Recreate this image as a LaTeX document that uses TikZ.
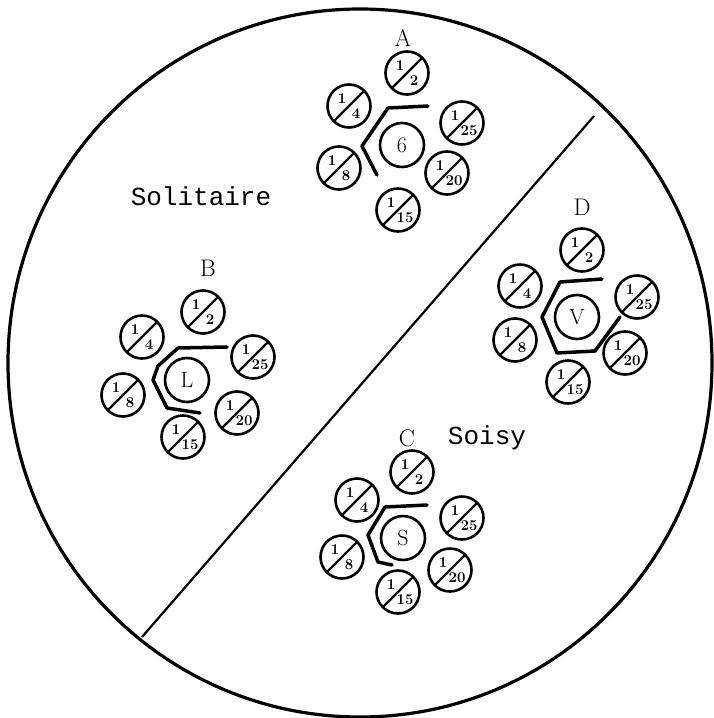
\documentclass[tikz,border=0pt]{standalone}
\usepackage{fontspec}
\newfontfamily\typed{Liberation Mono}
\tikzset{
  x=1pt,y=-1pt,
  dial/.style={circle,draw,line width=2.6pt,minimum size=43pt,inner sep=0pt},
  core/.style={circle,draw,line width=2.6pt,minimum size=44pt,inner sep=0pt,font=\fontsize{22}{22}\selectfont},
  slash/.style={line width=2.4pt,line cap=round},
  num/.style={inner sep=0pt,font=\bfseries\fontsize{15}{15}\selectfont},
  den/.style={inner sep=0pt,font=\bfseries\fontsize{15}{15}\selectfont},
  bracket/.style={line width=3.5pt,line join=round,line cap=round},
  letter/.style={inner sep=0pt,font=\fontsize{24}{24}\selectfont},
  typedtext/.style={inner sep=0pt,font=\typed\fontsize{26}{28}\selectfont},
}
\newcommand\dialnode[3]{%
  \node[dial] (#1) at (#2) {};
  \draw[slash] ([shift={(-14,14)}]#1.center) -- ([shift={(14,-14)}]#1.center);
  \node[num] at ([shift={(-7,-7)}]#1.center) {1};
  \node[den] at ([shift={(7,8)}]#1.center) {#3};
}
\begin{document}
\begin{tikzpicture}
\useasboundingbox (0,0) rectangle (714,718);
% outer circle
\node[draw=none,inner sep=0pt] (rim) at (360,363) {};
\draw[line width=3.2pt] (rim.center) ellipse [x radius=352, y radius=354];
% diagonal divider
\coordinate (d1) at (142,637);
\coordinate (d2) at (594,116);
\draw[line width=2.2pt] (d1) -- (d2);
% texts
\node[typedtext] (sol) at (201,196) {Solitaire};
\node[typedtext] (soi) at (487,438) {Soisy};

% Cluster A
\node[letter] (labA) at (403,38) {A};
\node[core] (cA) at (402,145) {6};
\dialnode{A2}{407,73}{2}
\dialnode{A4}{349,106}{4}
\dialnode{A8}{339,168}{8}
\dialnode{A15}{398,210}{15}
\dialnode{A20}{447,173}{20}
\dialnode{A25}{462,123}{25}
\draw[bracket] (377,175) -- (362,146) -- (388,108) -- (428,106);

% Cluster B
\node[letter] (labB) at (208,268) {B};
\node[core] (cB) at (187,380) {L};
\dialnode{B2}{203,312}{2}
\dialnode{B4}{142,337}{4}
\dialnode{B8}{123,395}{8}
\dialnode{B15}{183,437}{15}
\dialnode{B20}{237,413}{20}
\dialnode{B25}{253,357}{25}
\draw[bracket] (200,413) -- (167,408) -- (153,380) -- (158,366) -- (178,348) -- (227,347);

% Cluster D
\node[letter] (labD) at (582,207) {D};
\node[core] (cD) at (577,317) {V};
\dialnode{D2}{582,250}{2}
\dialnode{D4}{520,286}{4}
\dialnode{D8}{515,340}{8}
\dialnode{D15}{568,382}{15}
\dialnode{D20}{625,353}{20}
\dialnode{D25}{637,297}{25}
\draw[bracket] (602,279) -- (560,282) -- (542,317) -- (557,353) -- (595,351) -- (620,317);

% Cluster C
\node[letter] (labC) at (407,438) {C};
\node[core] (cC) at (403,538) {S};
\dialnode{C2}{412,472}{2}
\dialnode{C4}{357,500}{4}
\dialnode{C8}{342,557}{8}
\dialnode{C15}{398,592}{15}
\dialnode{C20}{450,570}{20}
\dialnode{C25}{462,518}{25}
\draw[bracket] (392,565) -- (378,562) -- (368,535) -- (385,507) -- (427,505);
\end{tikzpicture}
\end{document}
